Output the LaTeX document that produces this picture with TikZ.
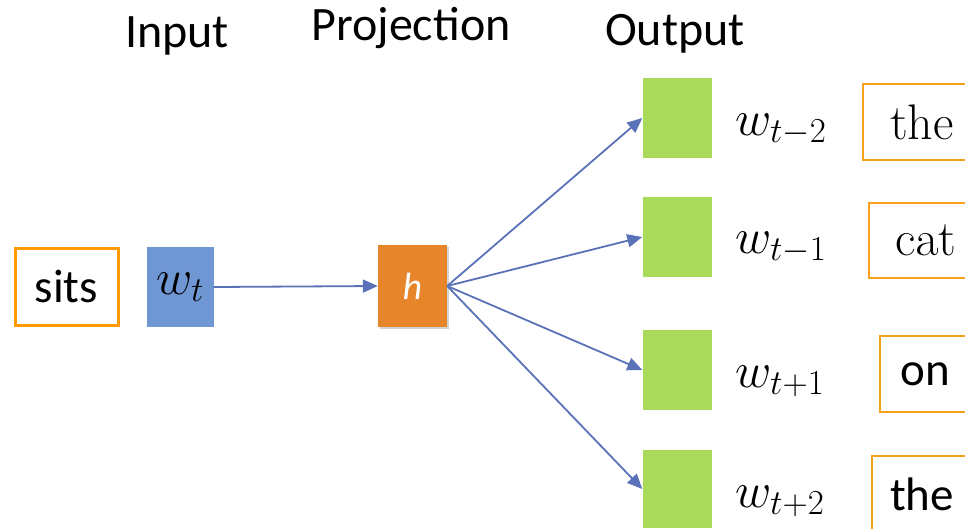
\RequirePackage{fix-cm}
\documentclass[tikz,border=0pt]{standalone}
\usepackage{fontspec}
\setmainfont{Carlito}
\newcommand\wordserif{\fontsize{50}{54}\usefont{OT1}{cmr}{m}{n}}
\usetikzlibrary{arrows.meta,shadows}

\definecolor{boxorange}{HTML}{FF9A00}
\definecolor{wordorange}{HTML}{F7A11A}
\definecolor{inblue}{HTML}{6F97D4}
\definecolor{projorange}{HTML}{E6852A}
\definecolor{outgreen}{HTML}{A9DA5A}
\definecolor{arrowblue}{HTML}{5A72B8}

\tikzset{
  title/.style={font=\fontsize{48}{52}\selectfont, anchor=base},
  wordbox/.style={draw=wordorange, line width=2pt, fill=white, inner sep=0pt,
    font=\fontsize{47}{50}\selectfont},
  serifword/.style={font=\wordserif},
  vecbox/.style={inner sep=0pt, minimum width=69pt, minimum height=80pt},
  outbox/.style={vecbox, fill=outgreen},
  wlabel/.style={anchor=base west, inner sep=0pt, font=\fontsize{50}{54}\selectfont},
  link/.style={draw=arrowblue, line width=1.8pt,
    -{Triangle[length=15pt,width=13pt]}}
}

\begin{document}
\begin{tikzpicture}[x=1pt,y=-1pt]
\useasboundingbox (0,0) rectangle (965,528);
\clip (0,0) rectangle (965,528);

% column headings
\node[title] (tin)   at (177,47) {Input};
\node[title] (tproj) at (411,40) {Projection};
\node[title] (tout)  at (675,45) {Output};

% input word and its vector
\node[draw=boxorange, line width=3pt, inner sep=0pt, minimum width=103pt,
      minimum height=77pt, font=\fontsize{47}{50}\selectfont] (sits) at (66.5,286.5) {sits};
\node[vecbox, fill=inblue, minimum width=67pt, font=\fontsize{50}{54}\selectfont]
  (wt) at (180,287) {$w_t$};

% projection layer
\node[vecbox, fill=projorange, minimum height=82pt,
      drop shadow={opacity=0.35, shadow xshift=2pt, shadow yshift=-2pt},
      text=white, font=\fontsize{38}{42}\selectfont\itshape] (h) at (412.5,286) {h};

% output vectors
\node[outbox] (o1) at (677,118) {};
\node[outbox] (o2) at (677,237) {};
\node[outbox] (o3) at (677,370) {};
\node[outbox, minimum height=78pt] (o4) at (677,489) {};

% output labels
\node[wlabel] (l1) at (735,135) {$w_{t-2}$};
\node[wlabel] (l2) at (735,253) {$w_{t-1}$};
\node[wlabel] (l3) at (735,387) {$w_{t+1}$};
\node[wlabel] (l4) at (735,507) {$w_{t+2}$};

% context words
\node[wordbox, serifword, minimum width=118pt, minimum height=76pt] (c1) at (922,122) {the};
\node[wordbox, serifword, minimum width=114pt, minimum height=75pt] (c2) at (926,240.5) {cat};
\node[wordbox, minimum width=90pt, minimum height=76pt] (c3) at (925,374) {on};
\node[wordbox, minimum width=100pt, minimum height=76pt] (c4) at (922,494) {the};

% connections
\draw[link] (wt.east) -- (h.west);
\foreach \o in {o1,o2,o3,o4}
  \draw[link] (h.east) -- (\o.west);
\end{tikzpicture}
\end{document}
